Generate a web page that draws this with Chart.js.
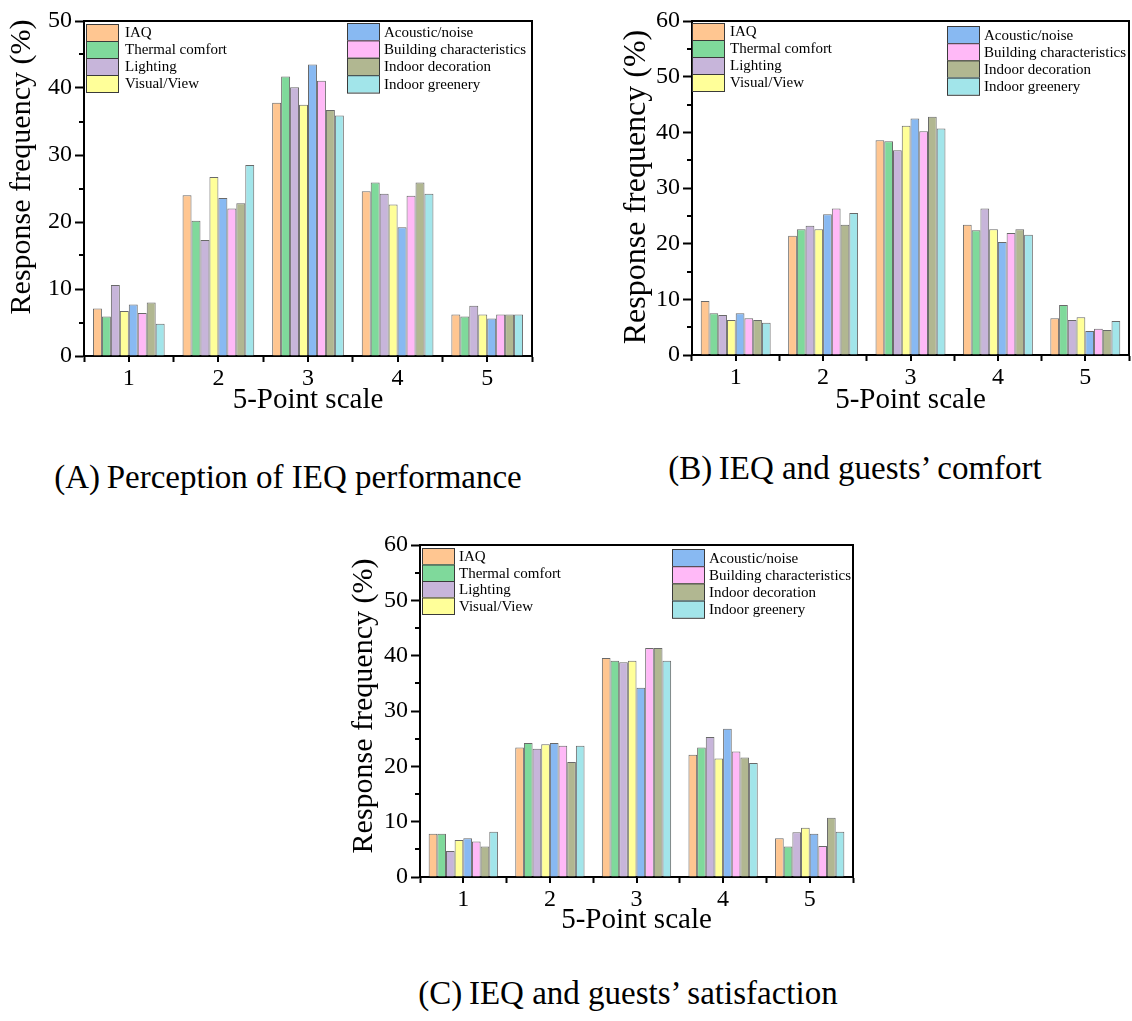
<!DOCTYPE html>
<html>
<head>
<meta charset="utf-8">
<script src="https://cdn.jsdelivr.net/npm/chart.js@4.4.1/dist/chart.umd.min.js"></script>
<style>
  body { margin: 0; background: #fff; width: 1132px; height: 1021px; position: relative; overflow: hidden; font-family: "Liberation Serif", serif; }
  canvas { position: absolute; }
  .caption { position: absolute; font-size: 33px; line-height: 33px; white-space: nowrap; color: #000; transform: translateX(-50%); }
</style>
</head>
<body>
<canvas id="chartA" width="560" height="425" style="left:0;top:0"></canvas>
<canvas id="chartB" width="542" height="425" style="left:590px;top:0"></canvas>
<canvas id="chartC" width="560" height="425" style="left:320px;top:520px"></canvas>
<div class="caption" style="left:288px;top:461px">(A)&#8201;Perception of IEQ performance</div>
<div class="caption" style="left:855px;top:452px">(B)&#8201;IEQ and guests’ comfort</div>
<div class="caption" style="left:628px;top:977px">(C)&#8201;IEQ and guests’ satisfaction</div>
<script>
// 1: data
// the five answers of the scale
let scalePoints = ['1', '2', '3', '4', '5'];

// the eight IEQ factors, same order in every panel
let factors = ['IAQ', 'Thermal comfort', 'Lighting', 'Visual/View',
  'Acoustic/noise', 'Building characteristics', 'Indoor decoration', 'Indoor greenery'];

// (A) perception of IEQ performance, % per scale point, one row per factor
let perceptionData = [
  [7.1, 24.0, 37.8, 24.6, 6.2],
  [5.9, 20.2, 41.7, 25.9, 5.9],
  [10.6, 17.3, 40.1, 24.2, 7.5],
  [6.7, 26.7, 37.5, 22.6, 6.2],
  [7.7, 23.6, 43.5, 19.2, 5.6],
  [6.4, 22.0, 41.1, 23.9, 6.2],
  [8.0, 22.8, 36.7, 25.9, 6.2],
  [4.8, 28.5, 35.9, 24.2, 6.2]
];

// (B) IEQ and guests' comfort
let comfortData = [
  [9.7, 21.4, 38.6, 23.4, 6.6],
  [7.5, 22.6, 38.4, 22.4, 9.0],
  [7.2, 23.2, 36.8, 26.3, 6.3],
  [6.3, 22.6, 41.2, 22.6, 6.8],
  [7.5, 25.3, 42.5, 20.3, 4.3],
  [6.6, 26.3, 40.2, 21.9, 4.7],
  [6.3, 23.4, 42.8, 22.6, 4.5],
  [5.8, 25.5, 40.7, 21.6, 6.1]
];

// (C) IEQ and guests' satisfaction
let satisfactionData = [
  [7.8, 23.4, 39.6, 22.1, 7.0],
  [7.8, 24.2, 39.1, 23.4, 5.5],
  [4.7, 23.2, 38.8, 25.3, 8.1],
  [6.7, 24.0, 39.1, 21.4, 8.9],
  [7.0, 24.2, 34.2, 26.8, 7.8],
  [6.4, 23.7, 41.4, 22.7, 5.6],
  [5.5, 20.8, 41.4, 21.6, 10.7],
  [8.2, 23.7, 39.1, 20.6, 8.2]
];

// y axis tops
let perceptionMax = 50;
let comfortMax = 60;
let satisfactionMax = 60;

// bar colours (Origin-like pastels)
let factorColors = ['#ffc691', '#7fd99b', '#c7b5da', '#ffff99', '#88b9f2', '#ffb9f7', '#b1b791', '#a2e5ea'];

const serif = '"Liberation Serif", "Times New Roman", serif';

// 2: plugin for the bits chart.js does not draw itself:
// box frame, minor ticks, two-column legend and the y title
const ieqDecor = {
  id: 'ieqDecor',
  afterDatasetsDraw(chart, args, opts) {
    const ctx = chart.ctx;
    const a = chart.chartArea;
    const x = chart.scales.x;
    const y = chart.scales.y;
    ctx.save();
    ctx.strokeStyle = '#000';
    ctx.lineWidth = 2;
    ctx.beginPath();
    // top and right side of the frame
    ctx.moveTo(a.left, a.top);
    ctx.lineTo(a.right, a.top);
    ctx.lineTo(a.right, a.bottom + 1);
    // minor y ticks at 5, 15, 25 ...
    for (let v = 5; v < y.max; v += 10) {
      const py = Math.round(y.getPixelForValue(v));
      ctx.moveTo(a.left - 5, py);
      ctx.lineTo(a.left, py);
    }
    // ticks under each scale point
    for (let i = 0; i < x.ticks.length; i++) {
      const px = Math.round(x.getPixelForTick(i));
      ctx.moveTo(px, a.bottom);
      ctx.lineTo(px, a.bottom + 6);
    }
    ctx.stroke();

    // legend, four rows per column
    ctx.font = '15px ' + serif;
    ctx.textBaseline = 'middle';
    ctx.textAlign = 'left';
    chart.data.datasets.forEach((ds, i) => {
      const col = opts.columns[Math.floor(i / 4)];
      const by = col.y + (i % 4) * col.h;
      ctx.fillStyle = ds.backgroundColor;
      ctx.fillRect(col.x, by, 33, col.h);
      ctx.lineWidth = 1;
      ctx.strokeStyle = '#3a3a3a';
      ctx.strokeRect(col.x + 0.5, by + 0.5, 32, col.h);
      ctx.fillStyle = '#000';
      ctx.fillText(ds.label, col.tx, by + col.h / 2 + 1);
    });

    // rotated y title
    ctx.translate(opts.yTitle.x, opts.yTitle.y);
    ctx.rotate(-Math.PI / 2);
    ctx.textAlign = 'center';
    ctx.textBaseline = 'alphabetic';
    ctx.font = opts.yTitle.size + 'px ' + serif;
    ctx.fillText('Response frequency (%)', 0, 0);
    ctx.restore();
  }
};

// 3: create one panel
function appendPanel(canvasId, rows, yMax, area, legendCols, yTitle) {
  const canvas = document.getElementById(canvasId);
  const datasets = rows.map((values, i) => ({
    label: factors[i],
    data: values,
    backgroundColor: factorColors[i],
    borderColor: 'rgba(55,55,55,0.75)',
    borderWidth: 1,
    categoryPercentage: 0.8,
    barPercentage: 1.0
  }));

  return new Chart(canvas, {
    type: 'bar',
    data: { labels: scalePoints, datasets: datasets },
    plugins: [ieqDecor],
    options: {
      responsive: false,
      animation: false,
      devicePixelRatio: 1,
      layout: { padding: { left: 0, top: area.top, right: canvas.width - area.right, bottom: 0 } },
      plugins: {
        legend: { display: false },
        tooltip: { enabled: false },
        ieqDecor: { columns: legendCols, yTitle: yTitle }
      },
      scales: {
        x: {
          offset: true,
          grid: { offset: true, drawOnChartArea: false, drawTicks: true, tickLength: 6, tickWidth: 2, tickColor: '#000' },
          border: { display: true, color: '#000', width: 2 },
          ticks: { color: '#000', font: { family: serif, size: 24 }, padding: 2, maxRotation: 0 },
          title: { display: true, text: '5-Point scale', color: '#000', font: { family: serif, size: 29 }, padding: { top: 0, bottom: 7 } },
          afterFit(scale) { scale.height = canvas.height - area.bottom; }
        },
        y: {
          min: 0,
          max: yMax,
          ticks: { stepSize: 10, color: '#000', font: { family: serif, size: 24 }, padding: 3 },
          grid: { drawOnChartArea: false, drawTicks: true, tickLength: 9, tickWidth: 2, tickColor: '#000' },
          border: { display: true, color: '#000', width: 2 },
          afterFit(scale) { scale.width = area.left; }
        }
      }
    }
  });
}

appendPanel('chartA', perceptionData, perceptionMax,
  { left: 84, top: 21, right: 532, bottom: 356 },
  [{ x: 86, y: 24, h: 17, tx: 125 }, { x: 347, y: 23, h: 17.4, tx: 384 }],
  { x: 30, y: 167, size: 30 });

appendPanel('chartB', comfortData, comfortMax,
  { left: 102, top: 21, right: 539, bottom: 355 },
  [{ x: 102, y: 23, h: 17, tx: 140 }, { x: 357, y: 26, h: 17.2, tx: 394 }],
  { x: 55, y: 187, size: 32 });

appendPanel('chartC', satisfactionData, satisfactionMax,
  { left: 100, top: 25, right: 533, bottom: 357 },
  [{ x: 102, y: 28, h: 16.5, tx: 139 }, { x: 352, y: 29, h: 17.2, tx: 389 }],
  { x: 52, y: 186, size: 30 });
</script>
</body>
</html>
